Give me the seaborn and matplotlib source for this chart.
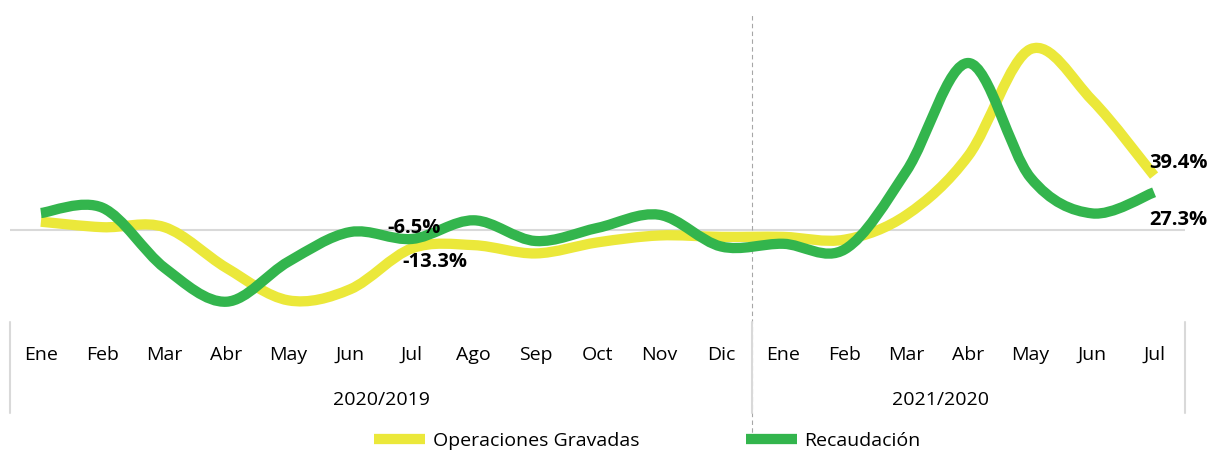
import matplotlib
matplotlib.use("Agg")
import matplotlib.pyplot as plt
from matplotlib.path import Path
from matplotlib.patches import PathPatch
from matplotlib.lines import Line2D
import numpy as np
import seaborn as sns

# data (variation %, year over year)
months = ["Ene", "Feb", "Mar", "Abr", "May", "Jun", "Jul", "Ago", "Sep", "Oct", "Nov", "Dic",
          "Ene", "Feb", "Mar", "Abr", "May", "Jun", "Jul"]
periods = ["2020/2019", "2021/2020"]
operaciones = [6, 2, 2, -27.5, -51, -43, -13.3, -11, -17, -9, -4, -5,
               -5, -7, 11, 54, 131, 94, 39.4]
recaudacion = [12.3, 16, -27.5, -52, -23, -1.5, -6.5, 7, -8, 1.5, 11, -12,
               -10, -14, 43, 121, 38, 12, 27.3]

YELLOW = "#EBE83A"
GREEN = "#33B54D"

sns.set_theme(style="white")
plt.rcParams['font.family'] = ['Open Sans', 'DejaVu Sans']


def smooth_path(vals):
    # excel-like smoothed line: cubic bezier through each point
    pts = np.column_stack([np.arange(len(vals)), vals]).astype(float)
    verts = [pts[0]]
    codes = [Path.MOVETO]
    n = len(pts)
    for i in range(n - 1):
        p0 = pts[max(i - 1, 0)]
        p1 = pts[i]
        p2 = pts[i + 1]
        p3 = pts[min(i + 2, n - 1)]
        verts += [p1 + (p2 - p0) / 6, p2 - (p3 - p1) / 6, p2]
        codes += [Path.CURVE4] * 3
    return Path(verts, codes)


fig = plt.figure(figsize=(12.1, 4.5), dpi=100)
ax = fig.add_axes([10 / 1210, 1 - 322 / 450, 1175 / 1210, 307 / 450])
ax.set_xlim(-0.5, len(months) - 0.5)
ax.set_ylim(-66.7, 155.8)
ax.axis("off")

ax.axhline(0, color="#D9D9D9", lw=1.5, zorder=1)
ax.axvline(11.5, ymin=-0.385, ymax=1.0, color="#A6A6A6", lw=0.8,
           ls=(0, (4, 3)), clip_on=False, zorder=1)

ax.add_patch(PathPatch(smooth_path(operaciones), fill=False, edgecolor=YELLOW,
                       lw=7.4, capstyle="butt", joinstyle="round", zorder=3))
ax.add_patch(PathPatch(smooth_path(recaudacion), fill=False, edgecolor=GREEN,
                       lw=7.4, capstyle="butt", joinstyle="round", zorder=4))

# category axis (two levels)
tr = ax.get_xaxis_transform()
for xs in [-0.5, 11.5, len(months) - 0.5]:
    ax.plot([xs, xs], [0, -0.296], transform=tr, color="#D9D9D9", lw=1.5, clip_on=False)
for i, m in enumerate(months):
    ax.text(i, -0.1075, m, transform=tr, ha="center", va="center", fontsize=14, color="black")
ax.text(5.5, -0.254, periods[0], transform=tr, ha="center", va="center", fontsize=14, color="black")
ax.text(14.55, -0.254, periods[1], transform=tr, ha="center", va="center", fontsize=14, color="black")

# data labels
lab = dict(textcoords="offset points", fontsize=14.5, fontweight="bold", color="black", zorder=6)
ax.annotate(f"{recaudacion[6]}%", (6, recaudacion[6]), xytext=(1.4, 8), ha="center", va="center", **lab)
ax.annotate(f"{operaciones[6]}%", (6, operaciones[6]), xytext=(16.5, -10), ha="center", va="center", **lab)
ax.annotate(f"{operaciones[18]}%", (18, operaciones[18]), xytext=(-3.6, 9), ha="left", va="center", **lab)
ax.annotate(f"{recaudacion[18]}%", (18, recaudacion[18]), xytext=(-3.6, -20), ha="left", va="center", **lab)

handles = [Line2D([], [], color=YELLOW, lw=7.4, solid_capstyle="butt"),
           Line2D([], [], color=GREEN, lw=7.4, solid_capstyle="butt")]
fig.legend(handles, ["Operaciones Gravadas", "Recaudación"], loc="center",
           bbox_to_anchor=(0.535, 1 - 441 / 450), ncol=2, frameon=False, fontsize=14,
           handlelength=2.6, handletextpad=0.4, columnspacing=5.5, labelcolor="black")

fig.savefig("out.png", dpi=100)
